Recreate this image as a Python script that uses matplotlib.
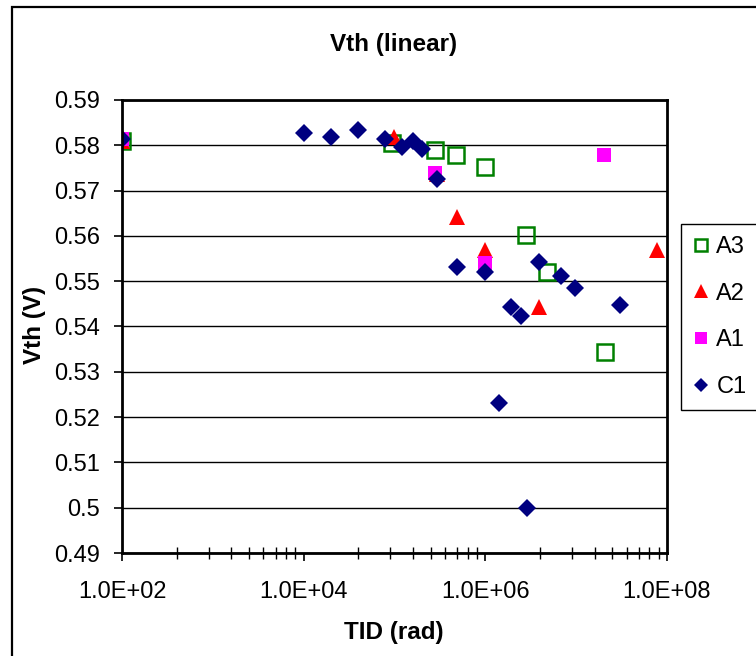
import numpy as np
import matplotlib
matplotlib.use("Agg")
import matplotlib.pyplot as plt
from matplotlib.patches import Rectangle
from matplotlib.ticker import FixedLocator, FuncFormatter, NullFormatter

plt.rcParams['font.family'] = ['Liberation Sans', 'DejaVu Sans']

# Data
a3_tid = [1e2, 9.5e4, 2.8e5, 4.8e5, 9.8e5, 2.8e6, 4.8e6, 2.1e7]
a3_vth = [0.5809, 0.5805, 0.5790, 0.5779, 0.5752, 0.5602, 0.5520, 0.5344]

a2_tid = [1e2, 9.8e4, 2.9e5, 4.9e5, 1e6, 3.9e6, 7.8e7]
a2_vth = [0.5810, 0.5818, 0.5737, 0.5642, 0.5569, 0.5443, 0.5569]

a1_tid = [1e2, 2.8e5, 1e6, 2e7]
a1_vth = [0.5814, 0.5738, 0.5541, 0.5779]

c1_tid = [1e2, 1e4, 2e4, 4e4, 7.8e4, 1.2e5, 1.6e5, 2e5, 2.9e5, 4.9e5,
          1e6, 1.9e6, 2.5e6, 1.4e6, 2.9e6, 3.9e6, 6.8e6, 9.7e6, 3e7]
c1_vth = [0.5814, 0.5827, 0.5818, 0.5834, 0.5814, 0.5796, 0.5809, 0.5792,
          0.5726, 0.5531, 0.5520, 0.5443, 0.5423, 0.5231, 0.4999, 0.5542,
          0.5511, 0.5485, 0.5447]

x_major = [1e2, 1e4, 1e6, 1e8]
y_ticks = [0.49, 0.50, 0.51, 0.52, 0.53, 0.54, 0.55, 0.56, 0.57, 0.58, 0.59]

W, H = 756, 656
fig = plt.figure(figsize=(W / 100, H / 100), dpi=100)
ax = fig.add_axes([122 / W, 1 - 553 / H, (667 - 122) / W, (553 - 100) / H])

# Outer chart border (only left and top edges fall inside the image)
fig.patches.append(Rectangle((12 / W, -0.1), 1.2, 1 - 7 / H + 0.1, transform=fig.transFigure,
                             fill=False, edgecolor='black', linewidth=1.6))

ax.plot(a3_tid, a3_vth, linestyle='none', marker='s', markersize=11.5,
        markerfacecolor='none', markeredgecolor='#008000', markeredgewidth=1.8, label='A3')
ax.plot(a2_tid, a2_vth, linestyle='none', marker='^', markersize=12,
        color='#FF0000', markeredgewidth=0, label='A2')
ax.plot(a1_tid, a1_vth, linestyle='none', marker='s', markersize=10,
        color='#FF00FF', markeredgewidth=0, label='A1')
ax.plot(c1_tid, c1_vth, linestyle='none', marker='D', markersize=9.5,
        color='#000080', markeredgewidth=0, label='C1')

ax.set_xscale('log')
ax.set_xlim(1e2, 1e8)
ax.set_ylim(0.49, 0.59)

ax.xaxis.set_major_locator(FixedLocator(x_major))
ax.xaxis.set_major_formatter(FuncFormatter(lambda v, p: '1.0E+%02d' % round(np.log10(v))))
minor = [10 ** (2 + 2 * n) * k ** 2 for n in range(3) for k in range(2, 11)]
ax.xaxis.set_minor_locator(FixedLocator(minor))
ax.xaxis.set_minor_formatter(NullFormatter())

ax.yaxis.set_major_locator(FixedLocator(y_ticks))
ax.yaxis.set_major_formatter(FuncFormatter(lambda v, p: '%g' % round(v, 2)))
ax.yaxis.set_minor_locator(FixedLocator([]))

ax.tick_params(axis='x', which='major', direction='out', length=6, width=1.2,
               labelsize=17, pad=14)
ax.tick_params(axis='x', which='minor', direction='inout', length=9, width=1)
ax.tick_params(axis='y', which='major', direction='out', length=6, width=1.2,
               labelsize=17, pad=10)

ax.grid(axis='y', color='black', linewidth=1)
ax.set_axisbelow(True)
for s in ax.spines.values():
    s.set_linewidth(2)
    s.set_color('black')

fig.text(394 / W, 1 - 45 / H, 'Vth (linear)', ha='center', va='center',
         fontsize=17.5, fontweight='bold')
fig.text(394 / W, 1 - 632 / H, 'TID (rad)', ha='center', va='center',
         fontsize=17.5, fontweight='bold')
fig.text(34 / W, 1 - 325 / H, 'Vth (V)', ha='center', va='center',
         fontsize=17.5, fontweight='bold', rotation=90)

leg = ax.legend(loc='upper left', bbox_to_anchor=(681 / W, 1 - 224 / H),
                bbox_transform=fig.transFigure, borderaxespad=0, fontsize=17,
                frameon=True, fancybox=False, edgecolor='black', framealpha=1,
                labelspacing=1.05, handlelength=0.7, handletextpad=0.3,
                borderpad=0.5, markerscale=0.8)
leg.get_frame().set_linewidth(1)

fig.savefig('out.png', dpi=100)
